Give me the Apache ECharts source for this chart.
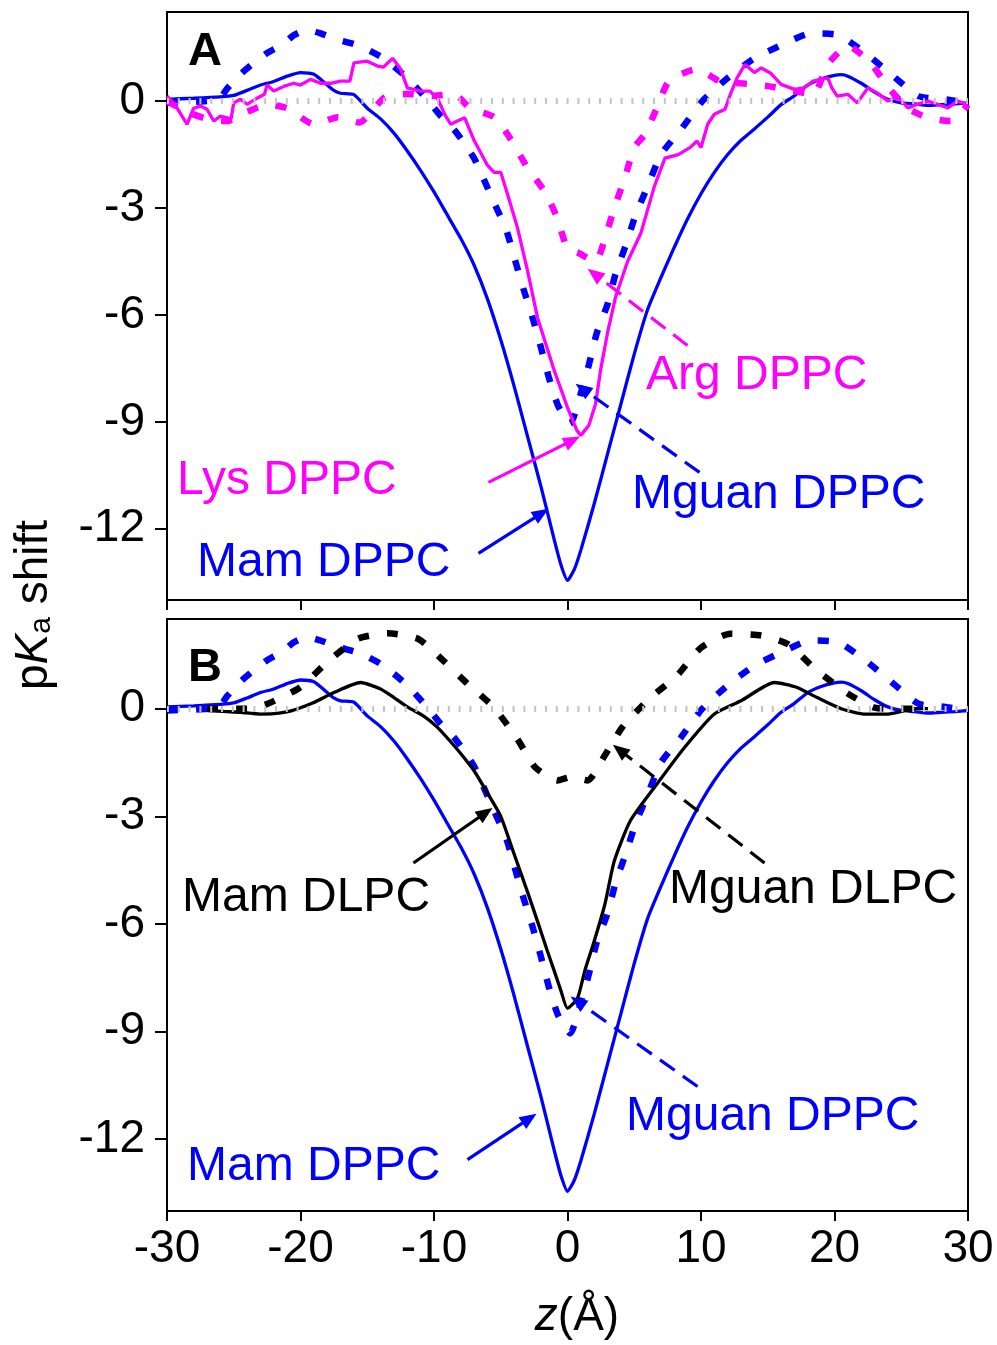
<!DOCTYPE html>
<html><head><meta charset="utf-8">
<script src="https://cdn.jsdelivr.net/npm/echarts@6/dist/echarts.min.js"></script>
<style>html,body{margin:0;padding:0;background:#fff}#c{width:997px;height:1345px}</style>
</head><body><div id="c"></div>
<script>
// ---------- data ----------
const xTickStep = 10;
const yTickValues = [-12, -9, -6, -3, 0];

const mamDPPC_z = [-30,-28,-26,-25,-24,-23,-22,-21,-20,-19,-18,-17.5,-17,-16,-15,-14,-13,-12,-11,-10,-9,-8,-7,-6,-5,-4,-3,-2,-1,-0.5,0,0.5,1,2,3,4,5,6,7,8,9,10,11,12,13,14,15,16,17,18,19,20,20.5,21,22,23,24,25,26,27,28,29,30];
const mamDPPC_v = [0.05,0.08,0.12,0.16,0.3,0.45,0.55,0.7,0.8,0.75,0.45,0.3,0.22,0.18,-0.2,-0.5,-0.9,-1.4,-1.95,-2.55,-3.2,-3.85,-4.6,-5.55,-6.7,-8.0,-9.4,-10.8,-12.3,-13.0,-13.45,-13.15,-12.6,-11.3,-9.9,-8.5,-7.1,-5.85,-4.95,-4.1,-3.3,-2.6,-2.0,-1.5,-1.1,-0.78,-0.45,-0.1,0.15,0.45,0.62,0.72,0.74,0.7,0.5,0.25,0.05,-0.05,-0.08,-0.12,-0.1,-0.08,-0.05];

const mguanDPPC_z = [-30,-27,-26,-25.5,-24.5,-23.5,-22.5,-21.3,-20.5,-19.5,-18.5,-17.2,-16,-15,-14,-13,-12,-11.2,-10.3,-9.5,-8.5,-7.8,-7,-6.5,-5.5,-4.6,-3.9,-3.3,-2.6,-2,-1.4,-0.7,0.2,1,1.6,2.2,3,3.6,4.35,5.1,6,7,8.5,10.1,12,14,16.2,18.2,20.3,22.4,24.4,26.3,28.3,30];
const mguanDPPC_v = [-0.05,0,0.1,0.35,0.75,1.07,1.35,1.6,1.85,2.0,1.9,1.72,1.6,1.45,1.25,0.97,0.65,0.33,-0.05,-0.42,-0.8,-1.15,-1.6,-2.0,-2.85,-3.6,-4.5,-5.27,-6.1,-6.9,-7.75,-8.55,-9.05,-8.2,-7.4,-6.5,-5.7,-4.85,-4.06,-3.2,-2.4,-1.5,-0.8,0,0.65,1.2,1.6,1.9,1.85,1.32,0.7,0.14,0.05,-0.05];

const lysDPPC_z = [-30,-29.25,-28.5,-28,-27.5,-27,-26.5,-26,-25.2,-25,-24.5,-24,-23.4,-22.7,-22.5,-22,-21.2,-20.5,-20,-19.25,-18.5,-17.75,-17,-16.3,-16,-15,-14.2,-13.8,-13.1,-12.5,-12,-11,-10.3,-9.7,-9.2,-8.75,-8.25,-7.7,-7,-6,-5.5,-5,-4.5,-3.75,-3,-2.25,-1.05,0,0.7,1,1.6,2.1,2.5,3,3.6,4.5,5.5,6.5,7.3,8.3,9.2,9.7,10,10.5,11,11.8,12.2,12.7,13.3,14,14.5,15.2,16,17,17.7,18.4,19.5,19.8,20.2,21,21.7,22.5,23.2,24,24.7,25.5,26.2,27,27.7,28.5,29.2,30];
const lysDPPC_v = [0.14,-0.19,-0.65,-0.2,-0.14,-0.23,-0.56,-0.42,-0.5,-0.05,0.05,-0.09,0.05,0.19,0.45,0.28,0.42,0.5,0.45,0.61,0.5,0.5,0.56,0.56,1.07,1.12,0.98,0.95,1.2,0.9,0.37,0.28,0.28,0.05,-0.37,-0.65,-0.56,-0.47,-1.1,-1.8,-2.0,-2.0,-2.6,-3.55,-4.75,-6.07,-7.5,-8.6,-9.24,-9.38,-9.1,-8.5,-7.5,-6.5,-5.5,-4.5,-3.7,-2.4,-1.6,-1.5,-1.3,-1.12,-1.3,-0.65,-0.37,-0.23,0.19,0.65,1.03,0.8,0.93,0.79,0.47,0.33,0.37,0.56,0.65,0.37,0.14,0.19,-0.05,0.37,0.23,0,0.14,-0.19,-0.09,0,-0.09,-0.19,0,-0.1];

const argDPPC_z = [-30,-28.5,-27,-25.5,-24,-22.5,-21,-19,-17.2,-15.6,-13.7,-12,-10,-8.5,-7.3,-5.5,-4.25,-3,-1.65,-0.75,0,0.75,2.1,2.85,3.5,4.3,5,5.8,6.7,7.6,9.7,11.4,13,15,16.5,18.4,19.5,21,22.7,24,25.5,27,28.7,30];
const argDPPC_v = [0,-0.3,-0.5,-0.56,-0.3,-0.1,-0.2,-0.65,-0.45,-0.6,0.1,0.2,0.15,0.2,-0.2,-0.45,-1.07,-1.87,-2.57,-3.3,-4.15,-4.25,-4.5,-3.8,-3.0,-2.15,-1.3,-0.93,-0.19,0.56,0.9,0.56,0.5,0.42,0.32,0.19,1.03,1.55,1.07,0.4,-0.2,-0.47,-0.56,-0.1];

const mamDLPC_z = [-27,-25.5,-24.5,-23,-22,-20.7,-19,-17.5,-15.5,-14,-13,-12,-10.8,-9.8,-8.8,-8,-7,-6,-5,-4,-3,-2,-1.5,-1,-0.5,0,0.75,1.3,2,2.8,3.5,4.7,6.7,8.75,11,13,15.5,17.2,18.7,20.5,22.2,24,26,27];
const mamDLPC_v = [-0.05,-0.08,-0.1,-0.15,-0.14,-0.06,0.17,0.45,0.73,0.55,0.31,0.05,-0.2,-0.5,-0.9,-1.25,-1.73,-2.35,-3.0,-4.05,-5.1,-6.2,-6.76,-7.3,-7.85,-8.35,-8.07,-7.3,-6.48,-5.45,-4.25,-3.13,-2.1,-1.09,-0.15,0.22,0.73,0.59,0.31,0,-0.15,-0.15,0,0];

const mguanDLPC_z = [-27,-24,-22.5,-20,-18,-15.7,-13.5,-11.2,-9.3,-7.5,-5.5,-3.75,-2.4,-0.75,0.3,1.5,2.8,4.1,6.1,8.2,10,12.2,14.5,16.5,18.7,21,23,24.5,26.7];
const mguanDLPC_v = [0,0,0.13,0.6,1.3,1.95,2.1,1.95,1.34,0.7,0.03,-0.85,-1.64,-2.0,-1.9,-2.0,-1.3,-0.52,0.27,0.92,1.7,2.09,2.04,1.8,1.06,0.42,0.03,0,0];

// ---------- styling / layout ----------
const BLUE = '#0000ff', MAG = '#ff00ff', BLACK = '#000000';
const FONT = '"Liberation Sans", Arial, sans-serif';
const DOT = [11, 18];
const DASH = [18, 10];

function zip(z, v) { return z.map((zz, i) => [zz, v[i]]); }

function arrow(from, to, color, dashed) {
  return [
    { coord: from, symbol: 'none', lineStyle: { color: color, width: 3.2, type: dashed ? DASH : 'solid' } },
    { coord: to, symbol: 'triangle', symbolSize: [14, 17] }
  ];
}
function markArrows(list) {
  return {
    silent: true, animation: false, label: { show: false },
    symbol: ['none', 'triangle'], symbolSize: [14, 17],
    data: list
  };
}

function curve(name, z, v, color, dotted, gi, arrows, smooth) {
  const s = {
    name: name, type: 'line', xAxisIndex: gi, yAxisIndex: gi,
    data: zip(z, v), showSymbol: false, symbol: 'none', z: 3,
    smooth: smooth || false,
    lineStyle: dotted ? { color: color, width: 6.5, type: DOT, cap: 'butt' }
                      : { color: color, width: 3.3 },
    itemStyle: { color: color }
  };
  if (arrows) s.markLine = markArrows(arrows);
  return s;
}
function zeroLine(gi) {
  return {
    type: 'line', xAxisIndex: gi, yAxisIndex: gi, data: [], z: 1, silent: true,
    markLine: {
      silent: true, animation: false, symbol: 'none', label: { show: false },
      lineStyle: { color: '#c4c4c4', width: 6, type: [2, 8.8] },
      data: [{ yAxis: 0 }]
    }
  };
}

const grids = [
  { left: 167, top: 12, width: 801, height: 588 },
  { left: 167, top: 619, width: 801, height: 592 }
];

function xAxis(gi, labels) {
  return {
    type: 'value', gridIndex: gi, min: -30, max: 30, interval: xTickStep,
    axisLine: { show: true, onZero: false, lineStyle: { color: BLACK, width: 2 } },
    axisTick: { show: true, inside: false, length: 10, lineStyle: { color: BLACK, width: 2 } },
    axisLabel: { show: labels, fontSize: 46, color: BLACK, fontFamily: FONT, margin: 15 },
    splitLine: { show: false }
  };
}
function yAxis(gi) {
  return {
    type: 'value', gridIndex: gi, min: -14, max: 2.5,
    axisLine: { show: true, onZero: false, lineStyle: { color: BLACK, width: 2 } },
    axisTick: { show: true, inside: false, length: 12, customValues: yTickValues, lineStyle: { color: BLACK, width: 2 } },
    axisLabel: { show: true, fontSize: 46, color: BLACK, fontFamily: FONT, margin: 22, customValues: yTickValues },
    splitLine: { show: false }
  };
}

function label(text, x, y, color, bold) {
  return {
    type: 'text', x: x, y: y, z: 10, silent: true,
    style: { text: text, fill: color, fontSize: bold ? 47 : 48, fontFamily: FONT, fontWeight: bold ? 'bold' : 'normal',
             align: 'left', verticalAlign: 'middle' }
  };
}

const option = {
  animation: false,
  backgroundColor: '#ffffff',
  grid: grids.map(g => Object.assign({ show: true, borderColor: BLACK, borderWidth: 2, backgroundColor: 'transparent' }, g)),
  xAxis: [xAxis(0, false), xAxis(1, true)],
  yAxis: [yAxis(0), yAxis(1)],
  series: [
    zeroLine(0),
    curve('Mam DPPC', mamDPPC_z, mamDPPC_v, BLUE, false, 0, [arrow([-6.67, -12.69], [-1.95, -11.57], BLUE, false)], 0.2),
    curve('Mguan DPPC', mguanDPPC_z, mguanDPPC_v, BLUE, true, 0, [arrow([9.89, -10.42], [1.12, -8.07], BLUE, true)], 0.2),
    curve('Arg DPPC', argDPPC_z, argDPPC_v, MAG, true, 0, [arrow([8.99, -6.86], [2.02, -4.85], MAG, true)], 0.2),
    curve('Lys DPPC', lysDPPC_z, lysDPPC_v, MAG, false, 0, [arrow([-5.92, -10.7], [0.37, -9.52], MAG, false)]),
    zeroLine(1),
    curve('Mam DPPC B', mamDPPC_z, mamDPPC_v, BLUE, false, 1, [arrow([-7.49, -12.57], [-2.85, -11.42], BLUE, false)], 0.2),
    curve('Mguan DPPC B', mguanDPPC_z, mguanDPPC_v, BLUE, true, 1, [arrow([9.74, -10.53], [0.75, -8.16], BLUE, true)], 0.2),
    curve('Mguan DLPC', mguanDLPC_z, mguanDLPC_v, BLACK, true, 1, [arrow([14.76, -4.3], [3.9, -1.15], BLACK, true)], 0.2),
    curve('Mam DLPC', mamDLPC_z, mamDLPC_v, BLACK, false, 1, [arrow([-11.54, -4.3], [-6.14, -2.9], BLACK, false)], 0.2)
  ],
  graphic: [
    label('A', 188, 52, BLACK, true),
    label('B', 188, 668, BLACK, true),
    label('Lys DPPC', 177, 481, MAG),
    label('Mam DPPC', 197, 563, BLUE),
    label('Arg DPPC', 646, 376, MAG),
    label('Mguan DPPC', 632, 495, BLUE),
    label('Mam DLPC', 182, 898, BLACK),
    label('Mguan DLPC', 669, 890, BLACK),
    label('Mguan DPPC', 626, 1117, BLUE),
    label('Mam DPPC', 187, 1167, BLUE),
    {
      type: 'text', x: 34, y: 605, rotation: Math.PI / 2, silent: true,
      style: {
        text: '{n|p}{i|K}{s|a}{n| shift}', align: 'center', verticalAlign: 'middle', fill: BLACK,
        rich: {
          n: { fontSize: 46, fontFamily: FONT, fill: BLACK },
          i: { fontSize: 46, fontFamily: FONT, fontStyle: 'italic', fill: BLACK },
          s: { fontSize: 30, fontFamily: FONT, fill: BLACK, verticalAlign: 'bottom', padding: [14, 0, 0, 0] }
        }
      }
    },
    {
      type: 'text', x: 577, y: 1317, silent: true,
      style: {
        text: '{i|z}{n|(Å)}', align: 'center', verticalAlign: 'middle', fill: BLACK,
        rich: {
          n: { fontSize: 46, fontFamily: FONT, fill: BLACK },
          i: { fontSize: 46, fontFamily: FONT, fontStyle: 'italic', fill: BLACK }
        }
      }
    }
  ]
};

const chart = echarts.init(document.getElementById('c'), null, { renderer: 'canvas' });
chart.setOption(option);
</script>
</body></html>
